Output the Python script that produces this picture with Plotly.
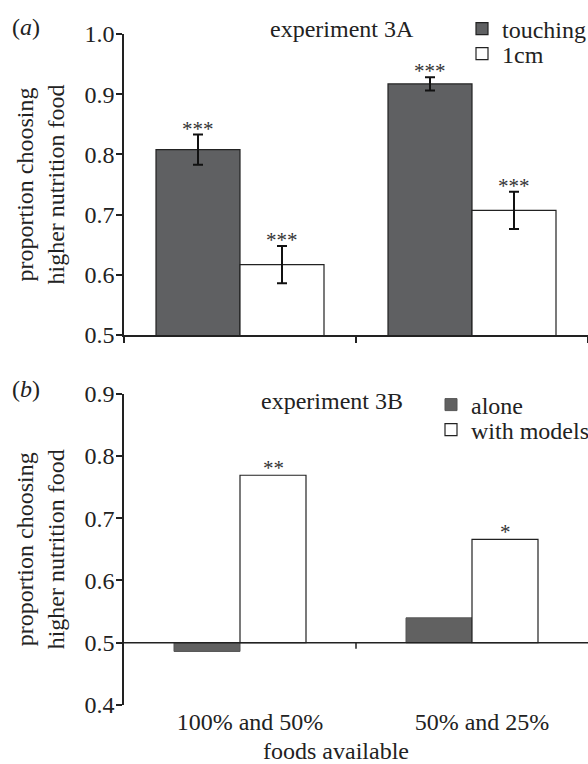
import plotly.graph_objects as go

categories = ["100% and 50%", "50% and 25%"]

# panel (a) experiment 3A
touching = [0.808, 0.917]
touching_err = [0.025, 0.011]
cm1 = [0.617, 0.707]
cm1_err = [0.031, 0.031]
stars_a_touching = ["***", "***"]
stars_a_cm1 = ["***", "***"]

# panel (b) experiment 3B
alone = [0.486, 0.540]
with_models = [0.769, 0.666]
stars_b_alone = ["", ""]
stars_b_models = ["**", "*"]

yticks_a = [0.5, 0.6, 0.7, 0.8, 0.9, 1.0]
yticks_b = [0.4, 0.5, 0.6, 0.7, 0.8, 0.9]

FONT = "Liberation Serif"
DARK = "#5f6062"
LINE = "#222222"
TXT = "#222222"
FS = 24

W, H = 588, 764
ML, MR, MT, MB = 124, 0, 34, 59
plot_w = W - ML - MR
plot_h = H - MT - MB

dom_a = [(705 - 335) / plot_h, 1.0]
dom_b = [0.0, (705 - 393.7) / plot_h]

wa = 84 / (plot_w / 2)   # bar width (category units), panel a
wb = 66 / (plot_w / 2)   # bar width, panel b
base_b = 0.5


def px_x(px):
    return (px - ML) / plot_w


def px_y(py):
    return (H - MB - py) / plot_h


fig = go.Figure()

fig.add_trace(go.Bar(
    x=categories, y=touching, name="touching", width=wa, offset=-wa,
    marker=dict(color=DARK, line=dict(color=LINE, width=1.2)),
    error_y=dict(type="data", array=touching_err, color="#111", thickness=2, width=5),
    xaxis="x", yaxis="y", legend="legend",
))
fig.add_trace(go.Bar(
    x=categories, y=cm1, name="1cm", width=wa, offset=0,
    marker=dict(color="white", line=dict(color=LINE, width=1.2)),
    error_y=dict(type="data", array=cm1_err, color="#111", thickness=2, width=5),
    xaxis="x", yaxis="y", legend="legend2",
))
fig.add_trace(go.Bar(
    x=categories, y=[v - base_b for v in alone], base=base_b, name="alone",
    width=wb, offset=-wb,
    marker=dict(color="#616161", line=dict(color="#555", width=1)),
    xaxis="x2", yaxis="y2", legend="legend3",
))
fig.add_trace(go.Bar(
    x=categories, y=[v - base_b for v in with_models], base=base_b, name="with models",
    width=wb, offset=0,
    marker=dict(color="white", line=dict(color=LINE, width=1.2)),
    xaxis="x2", yaxis="y2", legend="legend4",
))

SF = dict(family=FONT, size=21, color="#333")
ann = []
for i, c in enumerate(categories):
    ann.append(dict(x=i - wa / 2, y=touching[i] + touching_err[i], xref="x", yref="y",
                    text=stars_a_touching[i], showarrow=False, yanchor="bottom",
                    font=SF, yshift=-8))
    ann.append(dict(x=i + wa / 2, y=cm1[i] + cm1_err[i], xref="x", yref="y",
                    text=stars_a_cm1[i], showarrow=False, yanchor="bottom",
                    font=SF, yshift=-8))
    if stars_b_alone[i]:
        ann.append(dict(x=i - wb / 2, y=alone[i], xref="x2", yref="y2",
                        text=stars_b_alone[i], showarrow=False, yanchor="bottom",
                        font=SF, yshift=-7))
    ann.append(dict(x=i + wb / 2, y=with_models[i], xref="x2", yref="y2",
                    text=stars_b_models[i], showarrow=False, yanchor="bottom",
                    font=SF, yshift=-7))

TF = dict(family=FONT, size=FS, color=TXT)
PA = dict(xref="paper", yref="paper", showarrow=False, font=TF,
          xanchor="center", yanchor="middle")
ann += [
    dict(x=px_x(26), y=px_y(27), text="(<i>a</i>)", **PA),
    dict(x=px_x(26), y=px_y(389), text="(<i>b</i>)", **PA),
    dict(x=px_x(342), y=px_y(29), text="experiment 3A", **PA),
    dict(x=px_x(332), y=px_y(401), text="experiment 3B", **PA),
    dict(x=px_x(336), y=px_y(751), text="foods available", **PA),
]

shapes = [
    dict(type="line", xref="x2 domain", yref="y2", x0=0, x1=1, y0=base_b, y1=base_b,
         line=dict(color=LINE, width=1.5)),
    dict(type="line", xref="x2", yref="y2", ysizemode="pixel", yanchor=base_b,
         x0=0.5, x1=0.5, y0=0, y1=-6, line=dict(color=LINE, width=1.5)),
]

ytitle = dict(text="proportion choosing<br>higher nutrition food",
              font=dict(family=FONT, size=24, color=TXT), standoff=13)

axis_common = dict(showgrid=False, zeroline=False, linecolor=LINE, linewidth=1.5,
                   tickcolor=LINE, tickwidth=1.5, ticklen=6,
                   tickfont=dict(family=FONT, size=FS, color=TXT))

legend_common = dict(xanchor="left", yanchor="middle", font=TF,
                     bgcolor="rgba(0,0,0,0)", itemwidth=30)

fig.update_layout(
    width=W, height=H, autosize=False,
    margin=dict(l=ML, r=MR, t=MT, b=MB, autoexpand=False),
    paper_bgcolor="white", plot_bgcolor="white",
    barmode="overlay",
    xaxis=dict(domain=[0, 1], anchor="y", type="category", categoryorder="array",
               categoryarray=categories, range=[-0.5, 1.5], showline=True,
               ticks="outside", tickson="boundaries", showticklabels=False, **axis_common),
    yaxis=dict(domain=dom_a, anchor="x", range=[0.5, 1.0], tickvals=yticks_a,
               tickformat=".1f", showline=True, ticks="outside", title=ytitle,
               ticklabelstandoff=-3, **axis_common),
    xaxis2=dict(domain=[0, 1], anchor="y2", type="category", categoryorder="array",
                categoryarray=categories, range=[-0.5, 1.5], showline=False,
                ticks="", ticklabelshift=10, **axis_common),
    yaxis2=dict(domain=dom_b, anchor="x2", range=[0.4, 0.9], tickvals=yticks_b,
                tickformat=".1f", showline=True, ticks="outside", title=ytitle,
                ticklabelstandoff=-3, **axis_common),
    legend=dict(x=px_x(462), y=px_y(29), **legend_common),
    legend2=dict(x=px_x(462), y=px_y(54), **legend_common),
    legend3=dict(x=px_x(431), y=px_y(405), **legend_common),
    legend4=dict(x=px_x(431), y=px_y(430), **legend_common),
    annotations=ann,
    shapes=shapes,
    showlegend=True,
)

fig.write_html(
    "out.html",
    config={"displayModeBar": False, "responsive": False},
    post_script="document.body.style.margin='0';document.body.style.overflow='hidden';",
)
